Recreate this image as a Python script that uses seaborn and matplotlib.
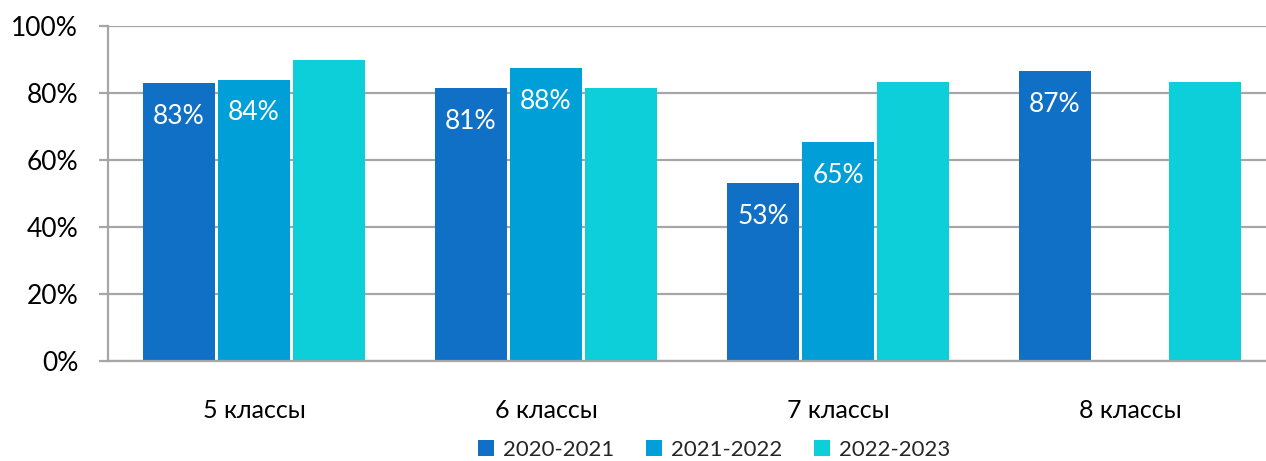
import matplotlib
matplotlib.use("Agg")
import matplotlib.pyplot as plt
import seaborn as sns
import pandas as pd
import numpy as np

categories = ["5 классы", "6 классы", "7 классы", "8 классы"]
series = ["2020-2021", "2021-2022", "2022-2023"]
v2020 = [83, 81.5, 53, 86.6]
v2021 = [84, 87.5, 65.4, np.nan]
v2022 = [89.9, 81.5, 83.3, 83.3]
labels2020 = ["83%", "81%", "53%", "87%"]
labels2021 = ["84%", "88%", "65%", ""]
labels2022 = ["", "", "", ""]
colors = ["#1070C6", "#009FD8", "#0CCFD9"]

rows = []
for s, vals in zip(series, [v2020, v2021, v2022]):
    for c, v in zip(categories, vals):
        rows.append({"cat": c, "series": s, "value": v})
df = pd.DataFrame(rows)

sns.set_theme(style="white")
plt.rcParams["font.family"] = ["Lato", "DejaVu Sans"]

fig = plt.figure(figsize=(12.66, 4.61), dpi=100)
ax = fig.add_axes([108/1266, 100/461, 1168/1266, 335/461])

sns.barplot(data=df, x="cat", y="value", hue="series", order=categories,
            hue_order=series, palette=colors, width=0.77, gap=0.04,
            saturation=1, linewidth=0, ax=ax, errorbar=None)

ax.set_xlim(-0.5, 3.5)
ax.set_ylim(0, 100)
ax.set_yticks([0, 20, 40, 60, 80, 100])
ax.set_yticklabels(["0%", "20%", "40%", "60%", "80%", "100%"])
ax.set_xlabel("")
ax.set_ylabel("")
ax.set_axisbelow(True)
ax.yaxis.grid(True, color="#A6A6A6", linewidth=1.6)
ax.xaxis.grid(False)
for sp in ["top", "right"]:
    ax.spines[sp].set_visible(False)
for sp in ["left", "bottom"]:
    ax.spines[sp].set_color("#A6A6A6")
    ax.spines[sp].set_linewidth(1.6)
ax.tick_params(axis="y", length=6.5, width=1.6, color="#A6A6A6", pad=15,
               labelsize=19, labelcolor="black", left=True)
ax.tick_params(axis="x", length=0, pad=27, labelsize=18, labelcolor="black")

all_labels = [labels2020, labels2021, labels2022]
for cont, labs in zip(ax.containers, all_labels):
    for bar, lab in zip(cont.patches, labs):
        h = bar.get_height()
        if lab and not np.isnan(h):
            ax.annotate(lab, (bar.get_x() + bar.get_width()/2, h),
                        xytext=(0, -24), textcoords="offset points",
                        ha="center", va="center", color="white", fontsize=19)

handles, labs = ax.get_legend_handles_labels()
ax.get_legend().remove()
fig.legend(handles, labs, loc="center", bbox_to_anchor=(714/1266, 11/461),
           ncol=3, frameon=False, fontsize=16, handlelength=0.75,
           handleheight=0.75, handletextpad=0.4, columnspacing=1.4,
           borderaxespad=0, borderpad=0)

fig.savefig("out.png", dpi=100)
